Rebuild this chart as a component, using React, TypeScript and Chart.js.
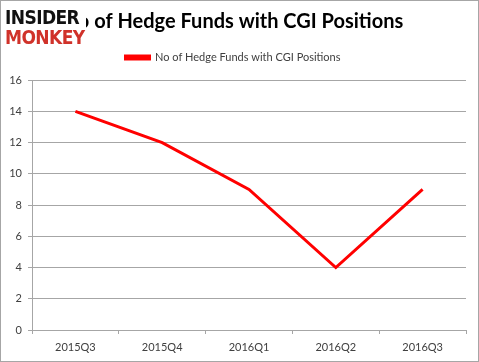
import React, { useEffect, useRef } from "react";
import { Chart, registerables } from "chart.js";

Chart.register(...registerables);

const categories = ["2015Q3", "2015Q4", "2016Q1", "2016Q2", "2016Q3"];
const hedgeFunds = [14, 12, 9, 4, 9];
const seriesLabel = "No of Hedge Funds with CGI Positions";
const titleText = "No of Hedge Funds with CGI Positions";

const FONT = "Lato, 'Open Sans', sans-serif";

const framePlugin = {
  id: "frame",
  beforeDraw(chart: any) {
    const ctx = chart.ctx;
    ctx.save();
    ctx.fillStyle = "#ffffff";
    ctx.fillRect(0, 0, chart.width, chart.height);
    ctx.strokeStyle = "#a6a6a6";
    ctx.lineWidth = 1;
    ctx.strokeRect(0.5, 0.5, chart.width - 1, chart.height - 1);
    ctx.restore();
  },
};

export default function App() {
  const ref = useRef<HTMLCanvasElement>(null);
  useEffect(() => {
    if (!ref.current) return;
    const chart = new Chart(ref.current, {
      type: "line",
      data: {
        labels: categories,
        datasets: [
          {
            label: seriesLabel,
            data: hedgeFunds,
            borderColor: "#ff0000",
            backgroundColor: "#ff0000",
            borderWidth: 3,
            pointRadius: 0,
            tension: 0,
          },
        ],
      },
      options: {
        animation: false,
        responsive: false,
        maintainAspectRatio: false,
        layout: { padding: { top: 10, right: 13, left: 0, bottom: 6 } },
        plugins: {
          title: {
            display: true,
            text: titleText,
            color: "#000000",
            font: { family: FONT, size: 20, weight: "bold" },
            padding: { top: 0, bottom: 8 },
          },
          subtitle: {
            display: true,
            text: "",
            weight: 500,
            font: { size: 1 },
            padding: { top: 0, bottom: 6 },
          } as any,
          legend: {
            display: true,
            position: "top",
            labels: {
              boxWidth: 24,
              boxHeight: 3,
              color: "#404040",
              font: { family: FONT, size: 11 },
              padding: 10,
            },
          },
          tooltip: { enabled: false },
        },
        scales: {
          x: {
            offset: true,
            grid: {
              offset: true,
              drawOnChartArea: false,
              drawTicks: true,
              tickLength: 4,
              color: "#a6a6a6",
            },
            border: { color: "#a6a6a6" },
            ticks: {
              color: "#404040",
              font: { family: FONT, size: 11 },
              padding: 7,
              maxRotation: 0,
            },
            afterFit(scale: any) {
              scale.height = 26;
            },
          },
          y: {
            min: 0,
            max: 16,
            ticks: {
              stepSize: 2,
              color: "#404040",
              font: { family: FONT, size: 11 },
              padding: 6,
            },
            grid: {
              color: "#a6a6a6",
              tickLength: 4,
            },
            border: { color: "#a6a6a6" },
            afterFit(scale: any) {
              scale.width = 32;
            },
          },
        },
      },
      plugins: [framePlugin],
    });
    return () => chart.destroy();
  }, []);

  return (
    <div style={{ position: "fixed", left: 0, top: 0, width: 479, height: 362 }}>
      <canvas ref={ref} width={479} height={362} style={{ display: "block" }} />
      <div
        style={{
          position: "absolute",
          left: 5,
          top: 8,
          fontFamily: "'DejaVu Sans Condensed', 'DejaVu Sans', sans-serif",
          fontWeight: 900,
          lineHeight: 1,
          background: "#ffffff",
          paddingRight: 1,
        }}
      >
        <div style={{ color: "#111111", fontSize: 19, letterSpacing: -0.6 }}>INSIDER</div>
        <div style={{ color: "#d0322a", fontSize: 19, letterSpacing: -0.6, marginTop: 1 }}>MONKEY</div>
      </div>
    </div>
  );
}
